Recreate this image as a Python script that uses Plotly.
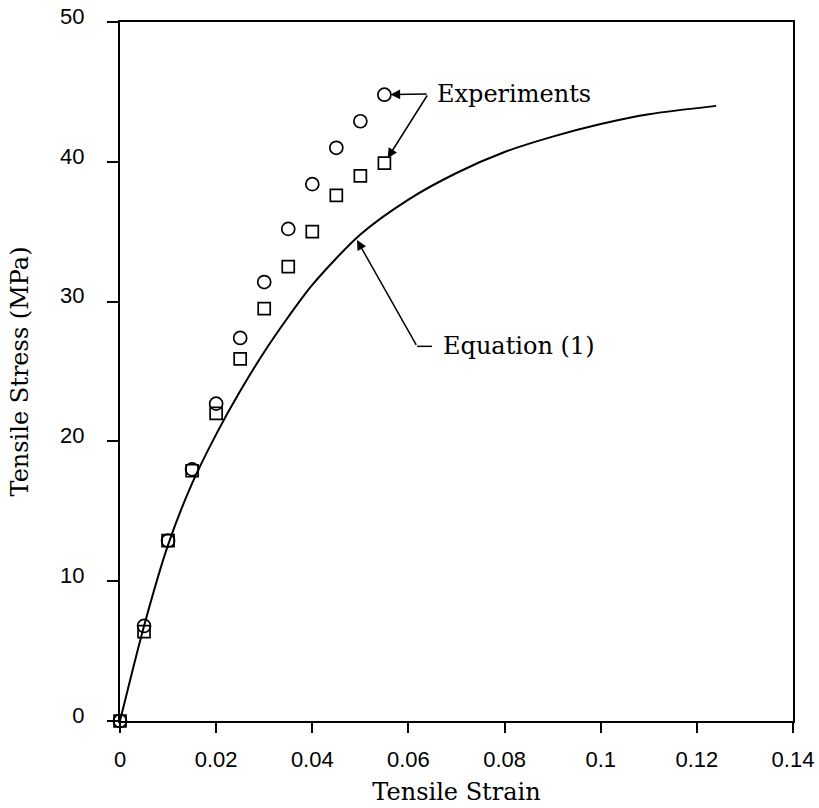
import plotly.graph_objects as go

# Measured tensile response (two specimens) and the Equation (1) curve
strain_exp = [0, 0.005, 0.01, 0.015, 0.02, 0.025, 0.03, 0.035, 0.04, 0.045, 0.05, 0.055]
stress_circle = [0, 6.8, 12.9, 18.0, 22.7, 27.4, 31.4, 35.2, 38.4, 41.0, 42.9, 44.8]
stress_square = [0, 6.4, 12.9, 17.9, 22.0, 25.9, 29.5, 32.5, 35.0, 37.6, 39.0, 39.9]

strain_eq = [0, 0.005, 0.01, 0.015, 0.02, 0.025, 0.03, 0.035, 0.04,
             0.05, 0.06, 0.07, 0.08, 0.09, 0.1, 0.11, 0.124]
stress_eq = [0, 6.8, 12.6, 17.0, 20.5, 23.6, 26.4, 28.9, 31.2,
             34.8, 37.3, 39.2, 40.7, 41.8, 42.7, 43.4, 44.0]

x_ticks = [0, 0.02, 0.04, 0.06, 0.08, 0.1, 0.12, 0.14]
x_tick_text = ["0", "0.02", "0.04", "0.06", "0.08", "0.1", "0.12", "0.14"]
y_ticks = [0, 10, 20, 30, 40, 50]

SERIF = "DejaVu Serif"
SANS = "Liberation Sans"
TEXT_SIZE = 24

fig = go.Figure()
fig.add_trace(go.Scatter(
    x=strain_eq, y=stress_eq, mode="lines",
    line=dict(color="black", width=2, shape="spline", smoothing=0.8),
    cliponaxis=False, showlegend=False))
fig.add_trace(go.Scatter(
    x=strain_exp, y=stress_circle, mode="markers",
    marker=dict(symbol="circle-open", size=13, color="black", line=dict(width=1.7)),
    cliponaxis=False, showlegend=False))
fig.add_trace(go.Scatter(
    x=strain_exp, y=stress_square, mode="markers",
    marker=dict(symbol="square-open", size=12, color="black", line=dict(width=1.7)),
    cliponaxis=False, showlegend=False))

# "Experiments" label with two leaders
exp_corner = (0.0641, 44.85)
for tip_x, tip_y in [(strain_exp[-1], stress_circle[-1]), (strain_exp[-1], stress_square[-1])]:
    fig.add_annotation(x=tip_x, y=tip_y, ax=exp_corner[0], ay=exp_corner[1],
                       xref="x", yref="y", axref="x", ayref="y", text="",
                       showarrow=True, arrowhead=2, arrowsize=1.3, arrowwidth=1.5,
                       arrowcolor="black", standoff=6)
fig.add_annotation(x=0.0655, y=44.85, xref="x", yref="y", text="Experiments",
                   showarrow=False, xanchor="left", yanchor="middle",
                   font=dict(family=SERIF, size=TEXT_SIZE, color="black"))

# "Equation (1)" label with leader to the curve
eq_corner = (0.0618, 26.8)
fig.add_annotation(x=0.0493, y=34.4, ax=eq_corner[0], ay=eq_corner[1],
                   xref="x", yref="y", axref="x", ayref="y", text="",
                   showarrow=True, arrowhead=2, arrowsize=1.3, arrowwidth=1.5,
                   arrowcolor="black", standoff=0)
fig.add_shape(type="line", x0=eq_corner[0], y0=eq_corner[1], x1=0.0649, y1=eq_corner[1],
              xref="x", yref="y", line=dict(color="black", width=1.5))
fig.add_annotation(x=0.0668, y=26.8, xref="x", yref="y", text="Equation (1)",
                   showarrow=False, xanchor="left", yanchor="middle",
                   font=dict(family=SERIF, size=TEXT_SIZE, color="black"))

fig.update_layout(
    width=819, height=808,
    margin=dict(l=120, r=26, t=22, b=87),
    paper_bgcolor="white", plot_bgcolor="white",
    showlegend=False,
)
fig.update_xaxes(
    range=[0, 0.14], tickvals=x_ticks, ticktext=x_tick_text,
    showgrid=False, zeroline=False,
    showline=True, linecolor="black", linewidth=2, mirror=True,
    ticks="outside", ticklen=10, tickwidth=1.5, tickcolor="black",
    ticklabelstandoff=8,
    tickfont=dict(family=SANS, size=22, color="black"),
    title=dict(text="Tensile Strain", standoff=12,
               font=dict(family=SERIF, size=TEXT_SIZE, color="black")),
    automargin=False,
)
fig.update_yaxes(
    range=[0, 50], tickvals=y_ticks,
    showgrid=False, zeroline=False,
    showline=True, linecolor="black", linewidth=2, mirror=True,
    ticks="outside", ticklen=11, tickwidth=1.5, tickcolor="black",
    ticklabelshift=-6,
    ticklabelstandoff=18,
    tickfont=dict(family=SANS, size=22, color="black"),
    title=dict(text="Tensile Stress (MPa)", standoff=25,
               font=dict(family=SERIF, size=TEXT_SIZE, color="black")),
    automargin=False,
)

fig.write_html("out.html")
